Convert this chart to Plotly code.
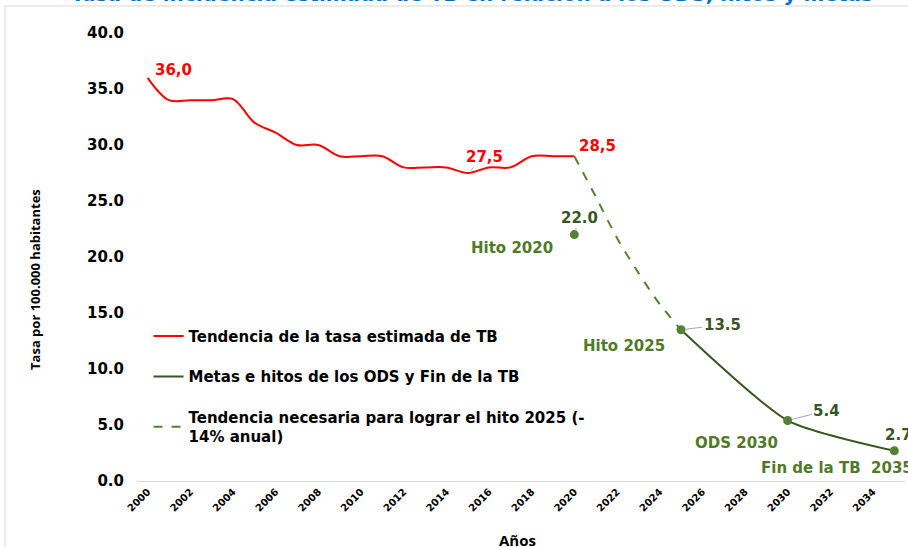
import plotly.graph_objects as go

# ---- data ----
years_trend = list(range(2000, 2021))
rate_trend = [36.0, 34.0, 34.0, 34.0, 34.1, 32.0, 31.1, 30.0, 30.0, 29.0, 29.0,
              29.0, 28.0, 28.0, 28.0, 27.5, 28.0, 28.0, 29.0, 29.0, 29.0]

years_needed = [2020, 2021, 2022, 2023, 2024, 2025]
rate_needed = [29.0, 25.4, 21.7, 18.6, 15.8, 13.5]

years_goals = [2025, 2030, 2035]
rate_goals = [13.5, 5.4, 2.7]

milestone_year = [2020]
milestone_rate = [22.0]

tick_years = list(range(2000, 2035, 2))

RED = "#FF0000"
DKGREEN = "#375623"
GREEN = "#548235"
NAMEGREEN = "#4F7A28"
FONT = "DejaVu Sans"

fig = go.Figure()

fig.add_trace(go.Scatter(
    x=years_trend, y=rate_trend, mode="lines",
    line=dict(color=RED, width=2, shape="spline", smoothing=1.0),
    legendgroup="a",
    name="Tendencia de la tasa estimada de TB"))

fig.add_trace(go.Scatter(
    x=years_goals, y=rate_goals, mode="lines",
    line=dict(color=DKGREEN, width=2, shape="spline", smoothing=0.6),
    legendgroup="b",
    name="Metas e hitos de los ODS y Fin de la TB"))

fig.add_trace(go.Scatter(
    x=years_needed, y=rate_needed, mode="lines",
    line=dict(color=GREEN, width=2, dash="dash", shape="spline", smoothing=0.8),
    legendgroup="c",
    name="Tendencia necesaria para lograr el hito 2025 (-<br>14% anual)"))

fig.add_trace(go.Scatter(
    x=years_goals + milestone_year, y=rate_goals + milestone_rate, mode="markers",
    marker=dict(color=GREEN, size=9), showlegend=False))

anns = []

def lab(x, y, text, color, dx, dy, arrow=False, size=15, xanchor="center"):
    if arrow:
        anns.append(dict(x=x, y=y, xref="x", yref="y", text=text,
                         showarrow=True, arrowhead=0, arrowcolor="#A6A6A6",
                         arrowwidth=1, ax=dx, ay=dy, standoff=4,
                         font=dict(family=FONT, size=size, color=color, weight="bold")))
    else:
        anns.append(dict(x=x, y=y, xref="x", yref="y", text=text,
                         showarrow=False, xshift=dx, yshift=-dy,
                         xanchor=xanchor,
                         font=dict(family=FONT, size=size, color=color, weight="bold")))

lab(2000, 36.0, "36,0", RED, 26, -8)
lab(2015, 27.5, "27,5", RED, 17, -16, arrow=True)
lab(2020, 29.0, "28,5", RED, 23, -10)
lab(2020, 22.0, "22.0", DKGREEN, 5, -17, arrow=True)
lab(2020, 22.0, "Hito 2020", NAMEGREEN, -62, 13)
lab(2025, 13.5, "13.5", DKGREEN, 41, -5, arrow=True)
lab(2025, 13.5, "Hito 2025", NAMEGREEN, -57, 16)
lab(2030, 5.4, "5.4", DKGREEN, 39, -10, arrow=True)
lab(2030, 5.4, "ODS 2030", NAMEGREEN, -51, 22)
lab(2035, 2.7, "2.7", DKGREEN, -11, -16, xanchor="left")
lab(2035, 2.7, "Fin de la TB  2035", NAMEGREEN, -135, 17, xanchor="left")

# clipped title at the very top
anns.append(dict(x=0.436, y=1.0555, xref="paper", yref="paper",
                 text="Tasa de incidencia estimada de TB en relación a los ODS, hitos y metas",
                 showarrow=False, yanchor="bottom", xanchor="center",
                 font=dict(family=FONT, size=20, color="#0070C0", weight="bold")))

# axis titles
anns.append(dict(x=-0.147, y=0.449, xref="paper", yref="paper",
                 text="Tasa por 100.000 habitantes", textangle=-90,
                 showarrow=False,
                 font=dict(family="Open Sans", size=13, color="#000000", weight="bold")))
anns.append(dict(x=0.495, y=-0.132, xref="paper", yref="paper",
                 text="Años", showarrow=False, yanchor="middle",
                 font=dict(family="Open Sans", size=15, color="#000000", weight="bold")))

fig.update_layout(
    width=908, height=547,
    margin=dict(l=137, r=3, t=33, b=66, autoexpand=False),
    paper_bgcolor="white", plot_bgcolor="white",
    showlegend=True,
    legend=dict(x=0.015, y=0.36, xanchor="left", yanchor="top",
                bgcolor="rgba(0,0,0,0)", tracegroupgap=18,
                font=dict(family=FONT, size=15, color="#000000", weight="bold"),
                itemwidth=30),
    annotations=anns,
    shapes=[dict(type="rect", xref="paper", yref="paper",
                 x0=-0.1719, x1=1.1, y0=-0.3, y1=1.0603,
                 line=dict(color="#D9D9D9", width=1), layer="below")],
)

fig.update_xaxes(range=[1999.5, 2035.5], tickmode="array", tickvals=tick_years,
                 ticktext=[str(y) for y in tick_years], tickangle=-45,
                 tickfont=dict(family=FONT, size=10, color="#000000", weight="bold"),
                 showgrid=False, zeroline=False, showline=True, automargin=False,
                 linecolor="#D9D9D9", linewidth=1, ticks="")
fig.update_yaxes(range=[0, 40], tickmode="array", tickvals=[0, 5, 10, 15, 20, 25, 30, 35, 40],
                 ticktext=["0.0", "5.0", "10.0", "15.0", "20.0", "25.0", "30.0", "35.0", "40.0"],
                 tickfont=dict(family=FONT, size=15, color="#000000", weight="bold"),
                 showgrid=False, zeroline=False, showline=False, ticks="", automargin=False,
                 ticklabelstandoff=12)

fig.write_html("out.html", config={"displayModeBar": False},
               post_script="document.body.style.margin='0';document.body.style.overflow='hidden';")
